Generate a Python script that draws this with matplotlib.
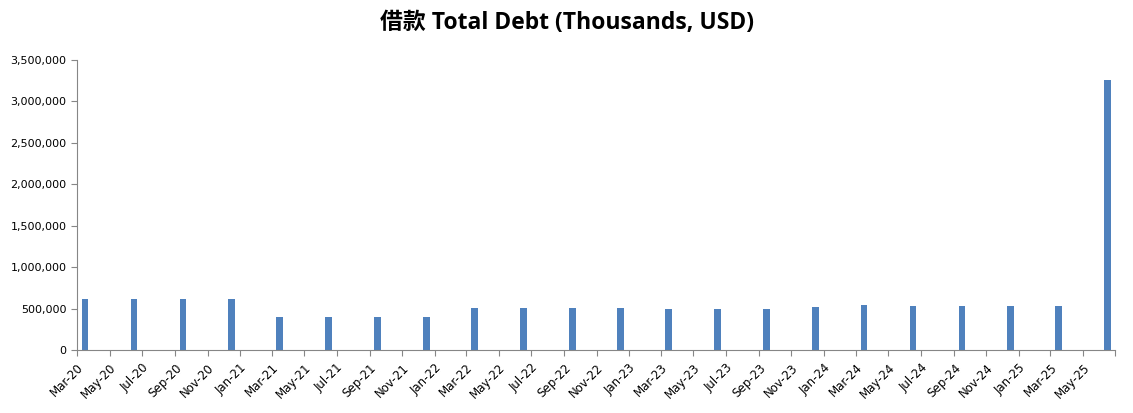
import datetime as dt
import matplotlib
matplotlib.use("Agg")
import matplotlib.pyplot as plt
from matplotlib.ticker import FuncFormatter

# quarter-end months and total debt (thousands USD)
quarters = ["2020-03", "2020-06", "2020-09", "2020-12",
            "2021-03", "2021-06", "2021-09", "2021-12",
            "2022-03", "2022-06", "2022-09", "2022-12",
            "2023-03", "2023-06", "2023-09", "2023-12",
            "2024-03", "2024-06", "2024-09", "2024-12",
            "2025-03", "2025-06"]
debt = [615000, 615000, 615000, 615000,
        400000, 400000, 400000, 400000,
        507000, 507000, 507000, 507000,
        495000, 495000, 495000, 519000,
        543000, 531000, 531000, 531000,
        531000, 3260000]

title = "借款 Total Debt (Thousands, USD)"

# bars sit in the middle of their month slot (date axis, base unit = month)
x = [dt.datetime.strptime(q, "%Y-%m") + dt.timedelta(days=15) for q in quarters]

fig = plt.figure(figsize=(11.33, 4.13), dpi=100)
ax = fig.add_axes([0.068, 0.1525, 0.9165, 0.7025])

ax.bar(x, debt, width=12.5, color="#4F81BD", zorder=2)

ax.set_xlim(dt.datetime(2020, 3, 1), dt.datetime(2025, 7, 1))
ax.set_ylim(0, 3500000)
ax.set_yticks(range(0, 3500001, 500000))
ax.yaxis.set_major_formatter(FuncFormatter(lambda v, p: f"{int(v):,}"))

ticks = [dt.datetime(2020 + (2 + 2 * i) // 12, (2 + 2 * i) % 12 + 1, 1) for i in range(33)]
ax.set_xticks(ticks)
labels = [t.strftime("%b-%y") for t in ticks]
labels[-1] = ""
ax.set_xticklabels(labels, rotation=45, ha="right", rotation_mode="anchor")

for s in ["top", "right"]:
    ax.spines[s].set_visible(False)
for s in ["left", "bottom"]:
    ax.spines[s].set_color("#868686")
ax.tick_params(axis="both", colors="#868686", labelcolor="black", labelsize=8, length=4, direction="out")
ax.tick_params(axis="x", pad=4, labelsize=8.5)

fig.text(0.5, 0.945, title, ha="center", va="center", fontsize=16.5, fontweight="bold",
         family=["Open Sans", "Noto Sans CJK SC"])

fig.savefig("out.png", dpi=100)
